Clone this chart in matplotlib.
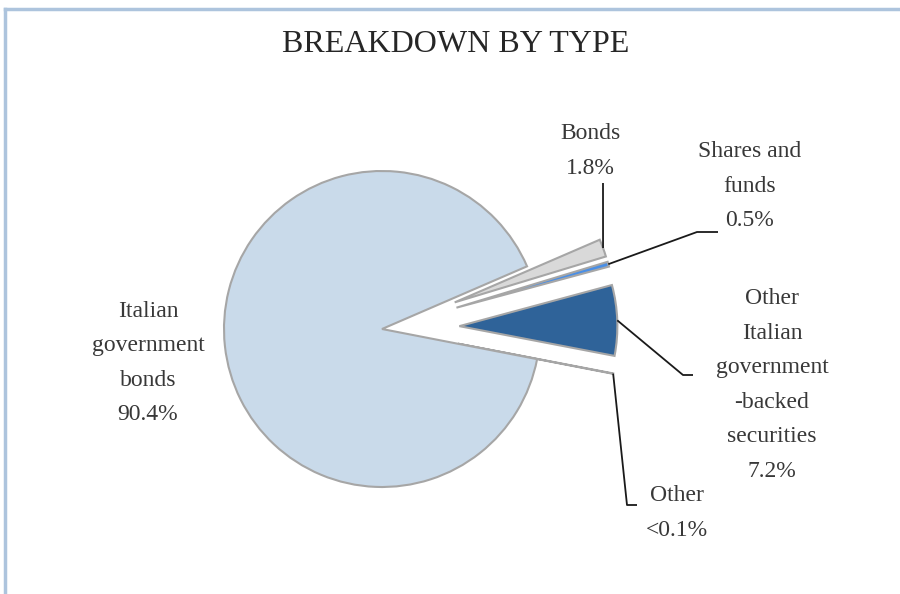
import numpy as np
import matplotlib.pyplot as plt
from matplotlib.lines import Line2D

plt.rcParams['font.family'] = ['Liberation Serif', 'DejaVu Serif']

labels = ["Other\n<0.1%",
          "Other\nItalian\ngovernment\n-backed\nsecurities\n7.2%",
          "Shares and\nfunds\n0.5%",
          "Bonds\n1.8%",
          "Italian\ngovernment\nbonds\n90.4%"]
values = [0.04, 7.2, 0.5, 1.8, 90.4]
colors = ["#ffffff", "#2f6399", "#4a8fe6", "#d9d9d9", "#c9daea"]

W, H = 900, 594
R = 158
explode = [0.49 * R, 0.49 * R, 0.49 * R, 0.49 * R, 0]


def py(y):
    # pixel row (from top) -> data y
    return H - y


fig = plt.figure(figsize=(9, 5.94), dpi=100)
ax = fig.add_axes([0, 0, 1, 1])
wedges, _ = ax.pie(values, explode=explode, colors=colors, startangle=-11,
                   counterclock=True, center=(382, py(329)), radius=R,
                   frame=True,
                   wedgeprops=dict(edgecolor="#a6a6a6", linewidth=1.5))
ax.set_xlim(0, W)
ax.set_ylim(0, H)
ax.set_aspect("equal")
ax.axis("off")

txt = "#383838"

# label positions (px) and leader elbows (px)
label_pos = [(677, 513), (772, 385), (750, 186), (590, 151), (148, 363)]
leaders = [[(627, 505), (637, 505)],
           [(683, 375), (693, 375)],
           [(697, 232), (718, 232)],
           [(603, 183)],
           None]

for w, lab, pos, lead in zip(wedges, labels, label_pos, leaders):
    ax.text(pos[0], py(pos[1]), lab, ha="center", va="center",
            multialignment="center", fontsize=17, color=txt, linespacing=1.85)
    if lead is None:
        continue
    th = np.deg2rad((w.theta1 + w.theta2) / 2)
    cx, cy = w.center
    ax0 = cx + w.r * np.cos(th)
    ay0 = cy + w.r * np.sin(th)
    xs = [ax0] + [p[0] for p in lead]
    ys = [ay0] + [py(p[1]) for p in lead]
    ax.plot(xs, ys, color="#1a1a1a", lw=1.3, solid_capstyle="butt")

ax.text(456, py(45), "BREAKDOWN BY TYPE", ha="center", va="center",
        fontsize=23, color="#262626")

# chart frame (top and left edges visible)
fig.add_artist(Line2D([5 / W, 1], [1 - 9 / H, 1 - 9 / H],
                      transform=fig.transFigure, color="#adc4dd", lw=2.5))
fig.add_artist(Line2D([5 / W, 5 / W], [0, 1 - 9 / H],
                      transform=fig.transFigure, color="#adc4dd", lw=2.5))

fig.savefig("out.png", dpi=100)
